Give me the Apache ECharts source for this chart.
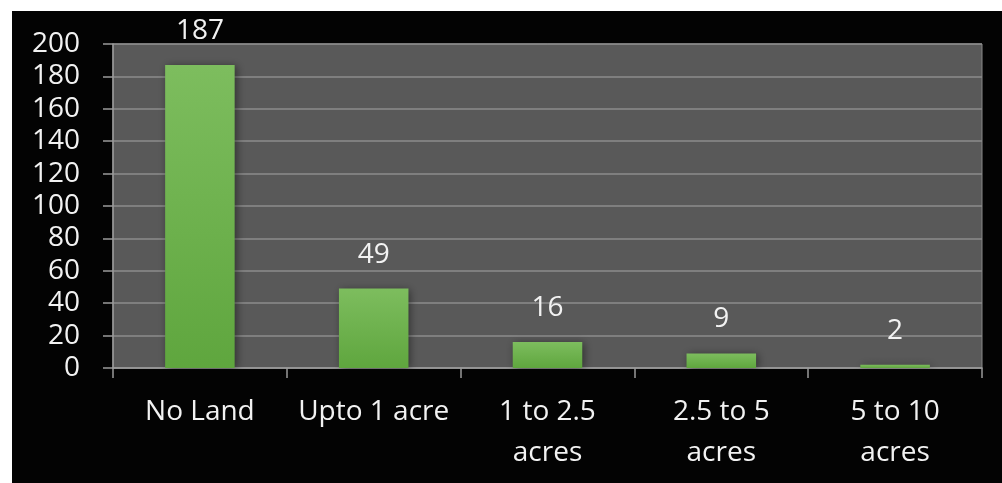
<!DOCTYPE html>
<html>
<head>
<meta charset="utf-8">
<script src="https://cdn.jsdelivr.net/npm/echarts@6/dist/echarts.min.js"></script>
<style>
html,body{margin:0;padding:0;background:#ffffff;width:1002px;height:483px;overflow:hidden;}
#c{position:absolute;left:12px;top:11px;width:990px;height:472px;}
</style>
</head>
<body>
<div id="c"></div>
<script>
var categories = ['No Land', 'Upto 1 acre', '1 to 2.5\nacres', '2.5 to 5\nacres', '5 to 10\nacres'];
var values = [187, 49, 16, 9, 2];
var yTicks = { min: 0, max: 200, interval: 20 };

var chart = echarts.init(document.getElementById('c'));
var font = '"Open Sans", "Noto Sans", sans-serif';
chart.setOption({
  backgroundColor: '#030303',
  animation: false,
  grid: {
    left: 101, top: 33, right: 20, bottom: 115,
    show: true, backgroundColor: '#595959', borderColor: '#8a8a8a', borderWidth: 1
  },
  xAxis: {
    type: 'category',
    data: categories,
    axisLine: { show: true, lineStyle: { color: '#9a9a9a', width: 1.5 } },
    axisTick: { show: true, alignWithLabel: false, length: 10, lineStyle: { color: '#9a9a9a', width: 1.5 } },
    axisLabel: { color: '#f2f2f2', fontFamily: font, fontSize: 28, lineHeight: 41, margin: 24, interval: 0 },
    splitLine: { show: false }
  },
  yAxis: {
    type: 'value',
    min: yTicks.min, max: yTicks.max, interval: yTicks.interval,
    axisLine: { show: true, lineStyle: { color: '#9a9a9a', width: 1.5 } },
    axisTick: { show: true, length: 10, lineStyle: { color: '#9a9a9a', width: 1.5 } },
    axisLabel: { color: '#f2f2f2', fontFamily: font, fontSize: 28, margin: 33 },
    splitLine: { show: true, lineStyle: { color: '#8c8c8c', width: 1.5 } }
  },
  series: [{
    type: 'bar',
    data: values,
    barWidth: '40%',
    itemStyle: {
      color: new echarts.graphic.LinearGradient(0, 0, 0, 1, [
        { offset: 0, color: '#7dbd5e' },
        { offset: 1, color: '#5fa63e' }
      ]),
      shadowColor: 'rgba(0,0,0,0.45)', shadowBlur: 8, shadowOffsetX: 2, shadowOffsetY: 1
    },
    label: {
      show: true, position: 'top', distance: 20,
      color: '#f2f2f2', fontFamily: font, fontSize: 28
    }
  }]
});
</script>
</body>
</html>
